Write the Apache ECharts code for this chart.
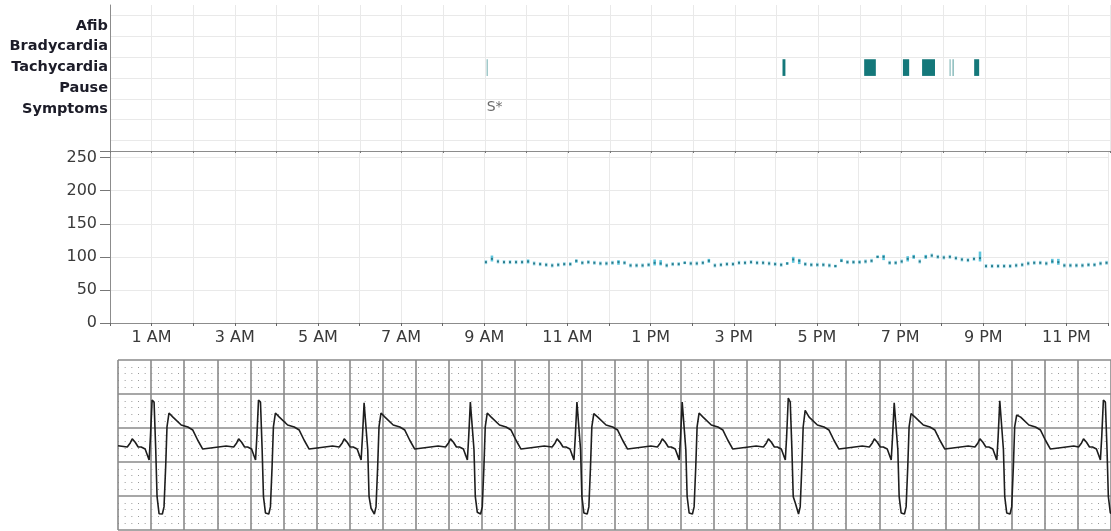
<!DOCTYPE html>
<html><head><meta charset="utf-8">
<script src="https://cdn.jsdelivr.net/npm/echarts@6/dist/echarts.min.js"></script>
<style>html,body{margin:0;padding:0;background:#fff;overflow:hidden}#c{width:1111px;height:531px}</style>
</head><body><div id="c"></div>
<script>
// ---------- DATA ----------
// event rows (value on the event axis -> label)
const rowLabels = ['', '', 'Symptoms', 'Pause', 'Tachycardia', 'Bradycardia', 'Afib', ''];
const tachyRow = 4;
const symptomRow = 2;
// hour-of-day tick labels (0..24)
const hourLabels = ['12 AM','1 AM','2 AM','3 AM','4 AM','5 AM','6 AM','7 AM','8 AM','9 AM','10 AM','11 AM',
  '12 PM','1 PM','2 PM','3 PM','4 PM','5 PM','6 PM','7 PM','8 PM','9 PM','10 PM','11 PM','12 AM'];
// tachycardia episodes [start hour, end hour]
const tachyEvents = [[9.04,9.06],[16.14,16.21],[18.10,18.38],[19.03,19.18],[19.49,19.80],[20.15,20.17],[20.22,20.25],[20.74,20.86]];
// symptom markers [hour, text]
const symptomMarks = [[9.04,'S*']];
// heart rate trend (bpm), regular sampling from hrStart hour
const hrStart = 9.04, hrStep = 0.1449;
const hrAvg = [92,97,93,92,92,92,92,93,90,89,
  88,87,88,89,89,94,91,92,91,90,
  90,91,92,91,87,87,87,88,91,90,
  87,89,89,91,90,90,91,94,87,88,
  89,89,91,91,92,91,91,90,89,88,
  90,96,94,89,88,88,88,87,86,94,
  92,92,92,93,94,100,100,91,91,93,
  97,100,93,100,102,100,99,100,98,96,
  95,97,98,86,86,86,86,86,87,88,
  90,91,91,90,93,92,87,87,87,87,
  88,88,90,91];
// min/max ranges for samples that show a bar: [index, low, high]
const hrRanges = [[1,93,102],[7,90,96],[15,91,96],[22,88,95],[28,87,96],[29,87,95],[33,89,93],[37,91,97],
  [50,88,92],[51,91,100],[52,89,97],[58,84,88],[59,92,97],[65,98,102],[66,95,103],[70,93,101],
  [71,97,103],[73,97,103],[82,93,108],[94,90,97],[95,88,97]];
// ECG strip: beat template (seconds from R peak, mV), R/S/T per beat
const ecgTplDt = [-0.150,-0.132,-0.120,-0.102,-0.084,-0.066,-0.042,-0.018,-0.010,0,0.012,0.022,0.030,0.042,0.062,0.072,0.082,0.090,0.102,0.126,0.176,0.216,0.246,0.276,0.306,0.366,0.447];
const ecgTplV  = [-0.28,-0.22,-0.16,-0.21,-0.28,-0.28,-0.31,-0.47,-0.13,'R',0.38,-0.32,-1.01,'S',-1.265,-1.16,-0.57,0.015,'T',0.16,0.044,0.015,-0.03,-0.18,-0.31,-0.29,-0.265];
const ecgRTimes = [0.206,0.849,1.487,2.129,2.773,3.409,4.050,4.690,5.328,5.954];
const ecgRAmp   = [0.41,0.41,0.37,0.38,0.38,0.38,0.44,0.37,0.40,0.41];
const ecgSAmp   = [-1.26,-1.25,-1.18,-1.24,-1.25,-1.25,-1.10,-1.25,-1.25,-1.25];
const ecgTAmp   = [0.22,0.22,0.22,0.22,0.21,0.22,0.26,0.21,0.19,0.22];
const ecgStartV = -0.26;

// ---------- BUILD ----------
const rangeMap = {};
hrRanges.forEach(r => { rangeMap[r[0]] = [r[1], r[2]]; });
const hrData = hrAvg.map((v, i) => {
  const r = rangeMap[i] || [v, v];
  return [hrStart + i * hrStep, v, r[0], r[1]];
});
const ecgData = [[0, ecgStartV]];
ecgRTimes.forEach((rt, b) => {
  ecgTplDt.forEach((dt, k) => {
    let v = ecgTplV[k];
    if (v === 'R') v = ecgRAmp[b];
    else if (v === 'S') v = ecgSAmp[b];
    else if (v === 'T') v = ecgTAmp[b];
    ecgData.push([+(rt + dt).toFixed(4), v]);
  });
});
const evData = tachyEvents.map(e => [e[0], e[1], tachyRow]);
const symData = symptomMarks.map(s => [s[0], symptomRow, s[1]]);

const FONT = 'DejaVu Sans';
const gridCol = '#e9e9e9';
const axisCol = '#8c8c8c';

const chart = echarts.init(document.getElementById('c'), null, {renderer: 'canvas'});
chart.setOption({
  animation: false,
  backgroundColor: '#fff',
  grid: [
    {left: 110, top: 5, width: 1000, height: 146, containLabel: false},
    {left: 110, top: 151, width: 1000, height: 172, containLabel: false},
    {left: 118, top: 360, width: 1000, height: 170, containLabel: false}
  ],
  xAxis: [
    {gridIndex: 0, type: 'value', min: 0, max: 24, interval: 1,
      axisLine: {show: true, lineStyle: {color: axisCol, width: 1}},
      axisTick: {show: true, length: 2, lineStyle: {color: '#777'}},
      axisLabel: {show: false},
      splitLine: {show: true, lineStyle: {color: gridCol}}},
    {gridIndex: 1, type: 'value', min: 0, max: 24, interval: 1,
      axisLine: {show: true, lineStyle: {color: axisCol, width: 1}},
      axisTick: {show: true, length: 3, lineStyle: {color: '#666'}},
      axisLabel: {show: true, margin: 7, fontFamily: FONT, fontSize: 16, color: '#3a3a3a',
        formatter: v => (v % 2 === 1 ? hourLabels[v] : '')},
      splitLine: {show: true, lineStyle: {color: gridCol}}},
    {gridIndex: 2, type: 'value', min: 0, max: 6, interval: 0.2,
      axisLine: {show: false}, axisTick: {show: false}, axisLabel: {show: false},
      splitLine: {show: true, lineStyle: {color: '#8a8a8a', width: 1.6}}}
  ],
  yAxis: [
    {gridIndex: 0, type: 'value', min: 0, max: 7, interval: 1,
      axisLine: {show: true, lineStyle: {color: axisCol}},
      axisTick: {show: false},
      axisLabel: {show: true, margin: 2, fontFamily: FONT, fontWeight: 'bold', fontSize: 14.5, color: '#1c1c28',
        padding: [0, 0, 6, 0], formatter: v => rowLabels[v] || ''},
      splitLine: {show: false},
      minorTick: {show: false, splitNumber: 2},
      minorSplitLine: {show: true, lineStyle: {color: gridCol}}},
    {gridIndex: 1, type: 'value', min: 0, max: 260, interval: 50,
      axisLine: {show: true, lineStyle: {color: axisCol}},
      axisTick: {show: true, length: 10, lineStyle: {color: '#777'}},
      axisLabel: {show: true, margin: 13, fontFamily: FONT, fontSize: 16, color: '#3a3a3a',
        formatter: v => (v % 50 === 0 ? String(v) : '')},
      splitLine: {show: true, lineStyle: {color: gridCol}}},
    {gridIndex: 2, type: 'value', min: -1.5, max: 1.0, interval: 0.5,
      axisLine: {show: false}, axisTick: {show: false}, axisLabel: {show: false},
      splitLine: {show: true, lineStyle: {color: '#8a8a8a', width: 1.6}},
      minorTick: {show: false, splitNumber: 5},
      minorSplitLine: {show: true, lineStyle: {color: '#9a9a9a', width: 1, type: [1, 5.6667], dashOffset: 0}}}
  ],
  series: [
    {type: 'custom', xAxisIndex: 0, yAxisIndex: 0, data: evData, silent: true,
      encode: {x: [0, 1], y: 2},
      renderItem: (params, api) => {
        const a = api.coord([api.value(0), api.value(2) + 0.4]);
        const b = api.coord([api.value(1), api.value(2) - 0.4]);
        const w = Math.max(1, b[0] - a[0]);
        return {type: 'rect', shape: {x: a[0], y: a[1], width: w, height: b[1] - a[1]},
          style: {fill: '#14787a', opacity: w < 1.5 ? 0.6 : 1}};
      }},
    {type: 'scatter', xAxisIndex: 0, yAxisIndex: 0, data: symData, symbolSize: 0, silent: true,
      label: {show: true, position: [0, -2], align: 'left', verticalAlign: 'middle',
        fontFamily: FONT, fontSize: 14, color: '#444', formatter: p => p.data[2]}},
    {type: 'custom', xAxisIndex: 1, yAxisIndex: 1, data: hrData, silent: true,
      encode: {x: 0, y: [1, 2, 3]},
      renderItem: (params, api) => {
        const t = api.value(0), v = api.value(1), lo = api.value(2), hi = api.value(3);
        const p = api.coord([t, v]);
        const kids = [];
        if (hi > lo) {
          const pt = api.coord([t, hi]), pb = api.coord([t, lo]);
          kids.push({type: 'rect', shape: {x: p[0] - 1.3, y: pt[1], width: 2.6, height: pb[1] - pt[1]}, style: {fill: '#5ec6de'}});
        } else {
          kids.push({type: 'rect', shape: {x: p[0] - 1.3, y: p[1] - 2, width: 2.6, height: 4}, style: {fill: '#9ad8e8'}});
        }
        kids.push({type: 'rect', shape: {x: p[0] - 1, y: p[1] - 1, width: 2, height: 2}, style: {fill: '#2a7b8a'}});
        return {type: 'group', children: kids};
      }},
    {type: 'line', xAxisIndex: 2, yAxisIndex: 2, data: ecgData, showSymbol: false, silent: true,
      lineStyle: {color: '#1e1e1e', width: 1.6}, clip: true}
  ]
});
</script>
</body></html>
